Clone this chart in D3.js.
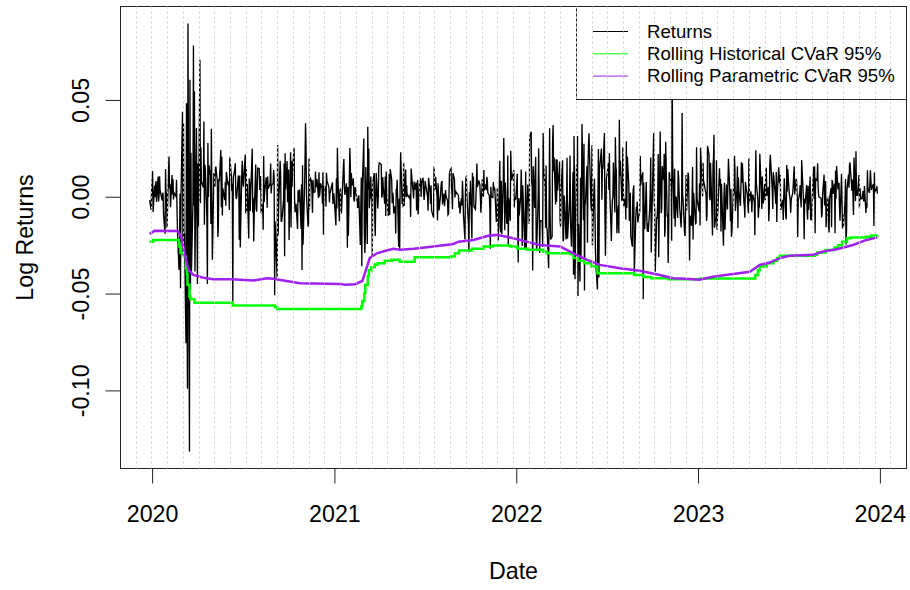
<!DOCTYPE html>
<html>
<head>
<meta charset="utf-8">
<script src="https://cdn.jsdelivr.net/npm/d3@7/dist/d3.min.js"></script>
<style>
  html, body { margin: 0; padding: 0; background: #ffffff; }
  svg { display: block; font-family: "Liberation Sans", Arial, sans-serif; }
</style>
</head>
<body>
<svg id="chart" width="910" height="590"></svg>
<script>
// ---------------------------------------------------------------------------
// Trading calendar (NASDAQ Composite sessions)
// ---------------------------------------------------------------------------
const firstSession = "2019-12-27";
const lastSession = "2023-12-27";
const marketHolidays = [
  "2020-01-01","2020-01-20","2020-02-17","2020-04-10","2020-05-25","2020-07-03","2020-09-07","2020-11-26","2020-12-25",
  "2021-01-01","2021-01-18","2021-02-15","2021-04-02","2021-05-31","2021-07-05","2021-09-06","2021-11-25","2021-12-24",
  "2022-01-17","2022-02-21","2022-04-15","2022-05-30","2022-06-20","2022-07-04","2022-09-05","2022-11-24","2022-12-26",
  "2023-01-02","2023-01-16","2023-02-20","2023-04-07","2023-05-29","2023-06-19","2023-07-04","2023-09-04","2023-11-23","2023-12-25"
];

// Daily log returns in percent, one row per month
const logReturnsPct = [
  -0.17, -0.67, 0.30, // 2019-12
  1.33, -0.79, 0.56, -0.03, 0.67, 0.81, -0.27, 1.04, -0.24, 0.08, 1.06, 0.34, -0.19, 0.14, 0.20, -0.93, -1.91, 1.43, 0.06, 0.26, -1.60, // 2020-01
  1.33, 2.08, 0.43, 0.67, -0.54, 1.12, 0.11, 0.90, -0.14, 0.20, 0.02, 0.87, -0.67, -1.81, -3.78, -2.81, 0.17, -4.72, 0.01, // 2020-02
  4.39, -3.03, 3.78, -2.83, -1.89, -7.57, 4.83, -4.81, -9.91, 8.94, -13.15, 6.04, -4.81, 2.27, -3.86, -0.27, 7.81, -0.45, 5.45, -3.86, 3.55, -0.95, // 2020-03
  -4.51, 1.71, -1.54, 7.07, -0.33, 2.55, 0.77, 0.48, 3.88, -1.45, 1.65, 1.37, -1.04, -4.51, 2.77, -0.01, 1.64, 1.10, -1.41, 3.51, -0.28, // 2020-04
  -3.25, 1.23, 1.12, 0.51, 1.40, 1.56, 0.78, -2.08, -1.57, 0.91, 0.79, 2.41, -0.54, 2.06, -0.97, 0.43, -0.17, 0.77, -0.46, 1.28, // 2020-05
  0.66, 0.59, 0.78, -0.69, 2.04, 1.12, 0.29, 0.67, -5.41, 1.00, 1.42, 1.73, 0.15, -0.12, 0.03, 1.10, 0.74, -2.22, 1.09, -2.62, 1.19, 1.86, // 2020-06
  0.95, 0.52, 2.18, -0.86, 1.43, -0.73, 0.66, -2.16, 0.94, 0.59, -0.73, 0.28, 2.48, -0.81, -0.05, -2.31, -0.94, 1.66, -0.64, -0.77, 0.43, 1.48, // 2020-07
  1.46, 0.35, 0.51, 1.07, -0.87, -0.39, -1.71, 2.10, -0.27, 0.21, 1.00, 0.73, -0.57, 1.05, 0.41, 0.60, 0.76, 1.72, 0.17, 0.60, 0.68, // 2020-08
  1.38, 0.98, -5.09, -1.28, -4.20, 2.67, -2.00, -0.60, 1.86, 1.20, -1.26, -1.27, -1.07, -0.13, 1.71, -3.07, 2.24, 0.37, 1.85, -0.29, 0.73, // 2020-09
  1.41, -2.24, 2.30, -1.59, 1.86, 0.50, 1.38, 2.53, -0.10, -0.80, -0.47, -0.36, -1.66, 0.33, -0.28, 0.19, 0.37, -1.65, 0.64, -3.78, 1.63, -2.48, // 2020-10
  0.42, 1.83, 3.79, 2.56, 0.04, -1.54, -1.38, 1.97, -0.65, 1.02, 0.79, 0.21, -0.82, 0.87, 0.22, 0.25, 1.30, 0.48, 0.91, -0.06, // 2020-11
  1.27, 0.02, 0.23, 0.70, 0.44, -0.36, 1.27, -1.96, 0.54, 0.50, -0.51, 1.24, 0.83, 0.75, 0.47, -0.29, 0.28, 0.26, 0.74, -0.37, 0.15, 0.14, // 2020-12
  -1.48, 0.95, -0.61, 2.53, 1.02, -1.26, 0.28, 0.43, -0.12, -0.87, 1.52, 1.95, 0.55, 0.09, 0.69, -0.07, -2.64, 0.50, -2.02, // 2021-01
  2.52, 1.54, -0.02, 1.22, 0.57, 0.95, -0.14, -0.25, 0.38, 0.50, -0.34, -0.58, -0.03, 0.07, -2.49, -0.50, 0.99, -3.59, 0.56, // 2021-02
  3.01, -1.70, -2.91, -2.14, 1.54, -2.44, 3.62, 0.38, 2.49, -0.59, 1.04, -0.11, 0.40, -3.07, 0.76, 1.22, -1.13, -2.03, -0.01, 1.23, -0.60, -0.11, 1.53, // 2021-03
  1.75, 1.66, -0.05, 0.07, 1.02, 0.51, -0.36, 1.04, -0.99, 1.30, 0.10, -0.98, -0.92, 1.18, -0.94, 1.43, 0.87, -0.34, 0.22, 0.01, -0.86, // 2021-04
  -0.49, -1.90, 0.37, 0.37, 0.88, -2.58, -0.09, -2.70, 0.72, 2.30, -0.38, 0.32, -0.56, 1.75, -0.48, 1.40, -0.03, 0.59, 0.01, 0.09, // 2021-05
  -0.09, 0.14, -1.04, 1.46, 0.49, 0.31, -0.09, 0.78, 0.35, 0.74, -0.71, -0.24, 0.87, -0.92, 0.79, 0.51, 0.95, -0.01, 0.69, 0.98, 0.19, -0.17, // 2021-06
  0.13, 0.81, 0.17, 0.01, -0.72, 0.98, 0.21, -0.38, 0.59, -0.70, -0.81, -1.07, 1.56, 0.91, 0.36, 1.03, 0.03, -1.22, 0.70, 0.11, -0.71, // 2021-07
  0.06, 0.55, 0.77, 0.78, -0.40, 0.16, -0.49, -0.16, 0.35, 0.04, -0.20, -0.93, -0.89, 0.11, 1.19, 1.54, 0.52, 0.15, -0.64, 1.22, 0.90, -0.04, // 2021-08
  0.33, 0.14, 0.21, 0.07, -0.57, -0.25, -0.87, -0.07, -0.45, 0.82, 0.13, -0.92, -2.21, 0.22, 1.01, 1.04, 0.03, -1.41, -2.87, 0.24, -0.44, // 2021-09
  0.82, -2.16, 1.24, 0.47, 1.04, -0.51, -0.64, -0.14, 0.72, 1.71, 0.50, 0.84, 0.71, 0.62, -0.05, -0.82, 0.90, 0.06, 0.00, 1.38, 0.33, // 2021-10
  0.63, 0.34, 1.03, 0.81, 0.20, 0.07, -0.60, -2.68, 0.51, 0.00, -0.04, 0.76, 0.33, 0.45, 0.39, -1.27, -1.27, 0.44, -2.26, 1.86, -1.57, // 2021-11
  -1.85, 0.83, -1.94, 0.93, 3.03, 0.64, -1.73, 0.73, -1.40, -1.15, 2.13, -2.50, -0.07, -1.24, 2.38, 1.17, 0.84, 1.38, -0.56, 0.00, -0.10, -0.16, // 2021-12
  1.19, -1.34, -3.40, -0.07, -0.97, 0.05, 1.40, 0.23, -2.54, 0.59, -2.63, -1.16, 1.30, -2.76, 0.63, -0.28, 0.02, -1.41, 3.08, 3.36, // 2022-01
  0.75, 0.50, -3.81, 1.57, -0.58, 1.27, 2.06, -2.13, -2.81, 0.00, 2.50, -0.11, -2.91, -1.24, -1.24, -2.60, 3.29, 1.62, 0.41, // 2022-02
  -1.60, 1.61, -1.57, -1.67, -3.69, -0.28, 3.53, -0.95, -2.21, -2.06, 2.88, 3.70, 1.32, 2.03, -0.40, 1.94, -0.27, 1.92, 0.31, 1.30, 1.82, -1.22, -1.55, // 2022-03
  0.29, 1.88, -2.29, -2.24, 0.06, -0.34, -2.21, -0.30, 2.01, -2.17, -0.14, 2.13, -1.24, -2.09, -2.58, 1.28, -4.03, 3.14, -0.01, -4.26, // 2022-04
  1.62, 0.22, 3.14, -5.12, -1.41, -4.38, 0.98, -3.23, 0.06, 3.75, -1.21, 2.73, -4.84, -0.26, -0.30, 1.58, -2.38, 1.50, 2.65, 3.28, -0.41, // 2022-05
  -0.72, 2.66, -2.50, 0.40, 0.94, -0.73, -2.78, -3.59, -4.79, -0.18, 2.47, -4.17, 1.42, 2.49, -0.15, 1.62, 1.44, 3.29, -0.72, -3.05, -1.34, // 2022-06
  0.90, 1.74, 0.35, 2.26, 0.12, -2.29, -0.95, -0.15, -0.03, 1.77, -0.81, 3.07, 1.56, 1.34, -1.88, -0.43, -1.89, 3.98, 1.07, 1.86, // 2022-07
  -0.18, -0.16, 2.56, 0.41, -0.50, -0.10, -1.19, 2.86, -0.58, 2.07, 0.62, -1.25, -0.35, 0.21, -2.03, -2.58, 0.00, 0.41, 0.59, -4.02, -1.03, -0.56, -0.56, // 2022-08
  -0.26, -1.32, -0.74, 2.12, 0.60, 0.88, 1.26, -5.30, 0.74, -1.44, -1.67, 0.76, -0.95, -1.79, -1.37, -1.82, -0.60, 0.25, 2.03, -2.88, -1.53, // 2022-09
  2.24, 3.29, -0.25, -0.68, -3.87, -1.05, -1.11, -0.09, 2.21, -3.13, 3.37, 0.90, -0.85, -0.61, 1.58, 0.85, 2.22, -2.06, -1.64, 2.84, -1.04, // 2022-10
  -0.89, -3.42, -1.75, 1.27, 0.85, 0.49, -2.27, 7.09, 1.87, -1.13, 1.44, -1.55, -0.35, 0.01, -1.10, 1.35, 0.99, -0.52, -1.59, -0.66, 4.32, // 2022-11
  0.13, -0.18, -1.95, -2.03, -0.51, 1.12, -0.70, 1.25, 1.00, -0.76, -3.29, -0.97, -1.50, 0.01, 1.53, -2.21, 0.21, -1.39, -1.36, 2.56, -0.11, // 2022-12
  -0.76, 0.69, -1.48, 2.53, 0.63, 0.01, 1.75, 0.64, 0.71, 0.14, -1.25, -0.96, 2.63, 2.18, 0.01, -0.18, 1.75, 0.95, -2.00, 1.66, // 2023-01
  1.99, 3.20, -1.60, -1.01, 1.89, -1.70, -1.03, -0.62, 1.47, 0.56, 0.91, -1.80, 0.67, -2.53, -0.01, 0.72, -1.70, 0.63, -0.10, // 2023-02
  -0.66, 0.73, 1.96, 0.10, -1.26, 0.40, -2.07, -1.77, 0.45, 0.14, 2.12, 1.46, -0.74, 0.39, 1.57, -1.61, 1.00, 0.30, -0.47, 0.45, 1.78, 0.72, 1.73, // 2023-03
  -0.27, -0.52, -1.08, 0.76, 0.03, -0.43, -0.85, 1.98, -0.35, 0.28, 0.03, -0.80, 0.03, 0.11, -0.29, -1.99, 0.47, 2.40, 0.69, // 2023-04
  -0.11, -1.09, -0.46, -0.49, 2.22, 0.18, -0.63, 1.04, 0.18, -0.35, 0.66, -0.18, 1.27, 1.50, 0.04, 0.50, -1.26, -0.61, 1.70, 2.17, 0.32, -0.63, // 2023-05
  1.27, 1.06, 0.09, -0.36, 1.28, -1.30, 0.16, 1.52, 0.82, 0.69, 1.14, -0.68, -0.16, -1.20, -0.03, 0.95, -1.01, -1.17, 1.64, 0.27, 1.44, // 2023-06
  0.21, -0.18, -0.82, -0.13, 0.18, 0.55, 1.15, 1.57, 0.12, 0.93, 0.76, 0.03, -2.08, -0.22, 0.19, 0.61, -0.12, -0.55, 1.89, 0.21, // 2023-07
  -0.43, -2.20, -0.10, -0.36, 0.61, -0.79, -1.18, 0.55, -0.68, 1.04, -1.15, -1.18, -1.19, -0.20, 1.55, -0.12, 1.58, -1.89, 0.93, 0.84, 1.73, 0.54, 0.11, // 2023-08
  -0.02, -0.08, -1.07, -0.89, 0.09, 1.14, -0.45, 0.29, 0.81, -1.57, 0.01, -0.23, -1.54, -1.84, -0.09, 0.45, -1.58, 0.83, 0.82, 0.14, // 2023-09
  0.67, -1.89, 1.34, -0.12, 1.58, 0.38, 0.58, 0.71, -0.63, -1.24, 1.19, -0.24, -1.64, -0.96, -1.55, -0.27, 0.92, -2.46, -1.78, 0.37, 1.15, 0.47, // 2023-10
  1.63, 1.77, 1.37, 0.30, 0.89, 0.08, -0.94, 2.03, -0.22, 2.35, 0.07, 0.07, 0.08, 1.12, -0.59, 0.46, -0.11, -0.07, 0.29, -0.16, -0.23, // 2023-11
  0.55, -0.84, -0.31, -0.58, 1.37, 0.45, 0.20, 0.70, 1.37, 0.82, 0.35, 0.61, 0.66, -1.51, 1.25, 0.19, 0.54, 0.16 // 2023-12
];

// Rolling historical CVaR (95%), level from each date onward
const historicalCvar = [
  ["2019-12-27", -0.0232], ["2020-01-03", -0.0223], ["2020-02-24", -0.0240], ["2020-02-25", -0.0258],
  ["2020-02-27", -0.0290], ["2020-03-05", -0.0310], ["2020-03-09", -0.0370], ["2020-03-11", -0.0400],
  ["2020-03-12", -0.0455], ["2020-03-16", -0.0515], ["2020-03-18", -0.0530], ["2020-03-26", -0.0547],
  ["2020-06-11", -0.0561], ["2020-09-03", -0.0570], ["2020-09-08", -0.0580], ["2021-02-24", -0.0565],
  ["2021-02-26", -0.0540], ["2021-03-02", -0.0500], ["2021-03-04", -0.0455], ["2021-03-09", -0.0410],
  ["2021-03-11", -0.0380], ["2021-03-16", -0.0364], ["2021-03-23", -0.0350], ["2021-03-29", -0.0343],
  ["2021-04-12", -0.0331], ["2021-04-26", -0.0326], ["2021-05-12", -0.0336], ["2021-06-11", -0.0312],
  ["2021-08-23", -0.0309], ["2021-08-31", -0.0292], ["2021-09-08", -0.0278], ["2021-10-04", -0.0268],
  ["2021-10-27", -0.0257], ["2021-11-15", -0.0252], ["2021-12-20", -0.0257], ["2022-01-03", -0.0269],
  ["2022-01-24", -0.0274], ["2022-02-24", -0.0283], ["2022-03-03", -0.0292], ["2022-04-19", -0.0296],
  ["2022-04-26", -0.0317], ["2022-05-05", -0.0330], ["2022-05-18", -0.0343], ["2022-06-01", -0.0360],
  ["2022-06-13", -0.0395], ["2022-08-26", -0.0404], ["2022-09-13", -0.0415], ["2022-09-29", -0.0421],
  ["2022-11-03", -0.0426], ["2023-01-05", -0.0422], ["2023-04-26", -0.0404], ["2023-05-01", -0.0380],
  ["2023-05-05", -0.0360], ["2023-05-19", -0.0343], ["2023-06-02", -0.0330], ["2023-06-09", -0.0317],
  ["2023-06-14", -0.0305], ["2023-08-24", -0.0300], ["2023-08-28", -0.0288], ["2023-09-14", -0.0275],
  ["2023-10-02", -0.0262], ["2023-10-09", -0.0250], ["2023-10-17", -0.0232], ["2023-10-27", -0.0214],
  ["2023-11-03", -0.0210], ["2023-12-04", -0.0206], ["2023-12-15", -0.0200], ["2023-12-27", -0.0197]
];

// Rolling parametric CVaR (95%)
const parametricCvar = [
  ["2019-12-27", -0.0192], ["2020-01-06", -0.0176], ["2020-02-21", -0.0177], ["2020-02-26", -0.0195],
  ["2020-03-01", -0.0223], ["2020-03-07", -0.0300], ["2020-03-14", -0.0378], ["2020-03-24", -0.0404],
  ["2020-04-13", -0.0418], ["2020-05-03", -0.0426], ["2020-06-09", -0.0426], ["2020-07-22", -0.0433],
  ["2020-08-18", -0.0421], ["2020-08-31", -0.0424], ["2020-09-21", -0.0433], ["2020-10-24", -0.0447],
  ["2021-01-12", -0.0450], ["2021-01-22", -0.0455], ["2021-02-11", -0.0452], ["2021-02-26", -0.0435],
  ["2021-03-05", -0.0380], ["2021-03-13", -0.0317], ["2021-03-27", -0.0292], ["2021-04-16", -0.0278],
  ["2021-04-29", -0.0269], ["2021-05-13", -0.0274], ["2021-06-09", -0.0269], ["2021-07-19", -0.0257],
  ["2021-08-28", -0.0244], ["2021-09-07", -0.0232], ["2021-10-07", -0.0223], ["2021-11-06", -0.0202],
  ["2021-11-23", -0.0197], ["2021-12-26", -0.0214], ["2022-01-22", -0.0232], ["2022-02-17", -0.0249],
  ["2022-03-30", -0.0257], ["2022-04-26", -0.0292], ["2022-05-23", -0.0326], ["2022-06-18", -0.0352],
  ["2022-07-28", -0.0369], ["2022-09-06", -0.0382], ["2022-10-16", -0.0404], ["2022-11-12", -0.0421],
  ["2022-12-09", -0.0424], ["2023-01-03", -0.0429], ["2023-01-31", -0.0413], ["2023-03-12", -0.0399],
  ["2023-04-15", -0.0387], ["2023-05-05", -0.0352], ["2023-05-25", -0.0340], ["2023-06-14", -0.0317],
  ["2023-07-04", -0.0305], ["2023-08-20", -0.0300], ["2023-09-09", -0.0283], ["2023-10-06", -0.0271],
  ["2023-11-08", -0.0249], ["2023-12-05", -0.0223], ["2023-12-27", -0.0210]
];

const yTickValues = [0.05, 0.00, -0.05, -0.10];
const yTickLabels = ["0.05", "0.00", "-0.05", "-0.10"];
const xTickYears = ["2020", "2021", "2022", "2023", "2024"];
const legendLabels = ["Returns", "Rolling Historical CVaR 95%", "Rolling Parametric CVaR 95%"];
const seriesColors = ["#000000", "#00FF00", "#A020F0"];
const xTitle = "Date";
const yTitle = "Log Returns";

// ---------------------------------------------------------------------------
// Data preparation
// ---------------------------------------------------------------------------
const parseDay = d3.utcParse("%Y-%m-%d");
const fmtDay = d3.utcFormat("%Y-%m-%d");
const holidaySet = new Set(marketHolidays);
const sessions = d3.utcDay
  .range(parseDay(firstSession), d3.utcDay.offset(parseDay(lastSession), 1))
  .filter(d => d.getUTCDay() !== 0 && d.getUTCDay() !== 6 && !holidaySet.has(fmtDay(d)));
if (sessions.length !== logReturnsPct.length) {
  console.warn("session count", sessions.length, "returns", logReturnsPct.length);
}
const n = Math.min(sessions.length, logReturnsPct.length);
const returns = d3.range(n).map(i => ({ date: sessions[i], value: logReturnsPct[i] / 100 }));
const hist = historicalCvar.map(([d, v]) => ({ date: parseDay(d), value: v }));
const param = parametricCvar.map(([d, v]) => ({ date: parseDay(d), value: v }));

// ---------------------------------------------------------------------------
// Layout and scales (axes extended 4% beyond the data, as in base R)
// ---------------------------------------------------------------------------
const plot = { left: 120.5, right: 906.5, top: 6.5, bottom: 468.5 };
const [t0, t1] = d3.extent(returns, d => d.date);
const tPad = (t1 - t0) * 0.04;
const x = d3.scaleUtc()
  .domain([new Date(+t0 - tPad), new Date(+t1 + tPad)])
  .range([plot.left, plot.right]);
const [v0, v1] = d3.extent(returns, d => d.value);
const vPad = (v1 - v0) * 0.04;
const y = d3.scaleLinear()
  .domain([v0 - vPad, v1 + vPad])
  .range([plot.bottom, plot.top]);

const svg = d3.select("#chart");
svg.append("rect").attr("width", 910).attr("height", 590).attr("fill", "#ffffff");

svg.append("clipPath").attr("id", "plot-clip")
  .append("rect")
  .attr("x", plot.left).attr("y", plot.top)
  .attr("width", plot.right - plot.left).attr("height", plot.bottom - plot.top);

const marks = svg.append("g").attr("clip-path", "url(#plot-clip)");

// Daily returns
marks.append("path")
  .datum(returns)
  .attr("fill", "none")
  .attr("stroke", seriesColors[0])
  .attr("stroke-width", 1.35)
  .attr("stroke-linejoin", "miter")
  .attr("d", d3.line().x(d => x(d.date)).y(d => y(d.value)));

// Historical CVaR (piecewise constant)
marks.append("path")
  .datum(hist)
  .attr("fill", "none")
  .attr("stroke", seriesColors[1])
  .attr("stroke-width", 2.5)
  .attr("d", d3.line().curve(d3.curveStepAfter).x(d => x(d.date)).y(d => y(d.value)));

// Parametric CVaR
marks.append("path")
  .datum(param)
  .attr("fill", "none")
  .attr("stroke", seriesColors[2])
  .attr("stroke-width", 2.5)
  .attr("d", d3.line().x(d => x(d.date)).y(d => y(d.value)));

// Plot frame
svg.append("rect")
  .attr("x", plot.left).attr("y", plot.top)
  .attr("width", plot.right - plot.left).attr("height", plot.bottom - plot.top)
  .attr("fill", "none").attr("stroke", "#222").attr("stroke-width", 1);

// ---------------------------------------------------------------------------
// Axes
// ---------------------------------------------------------------------------
const yearDates = xTickYears.map(s => parseDay(s + "-01-01"));
const xAxis = svg.append("g")
  .attr("transform", `translate(0,${plot.bottom})`)
  .call(d3.axisBottom(x).tickValues(yearDates).tickFormat(d3.utcFormat("%Y")).tickSizeOuter(0).tickSize(15));
xAxis.select(".domain").remove();
xAxis.selectAll(".tick line").attr("stroke", "#222");
xAxis.selectAll(".tick text")
  .attr("y", 53).attr("dy", null)
  .attr("fill", "#000")
  .style("font-size", "23.2px")
  .style("font-family", '"Liberation Sans", Arial, sans-serif');
xAxis.append("line")
  .attr("x1", x(yearDates[0])).attr("x2", x(yearDates[yearDates.length - 1]))
  .attr("y1", 0).attr("y2", 0).attr("stroke", "#222");

const yAxis = svg.append("g")
  .attr("transform", `translate(${plot.left},0)`)
  .call(d3.axisLeft(y).tickValues(yTickValues).tickFormat((d, i) => yTickLabels[i]).tickSizeOuter(0).tickSize(15));
yAxis.select(".domain").remove();
yAxis.selectAll(".tick line").attr("stroke", "#222");
yAxis.selectAll(".tick text")
  .attr("x", null).attr("dy", null)
  .attr("text-anchor", "middle")
  .attr("transform", "translate(-32,0) rotate(-90)")
  .attr("fill", "#000")
  .style("font-size", "23.2px")
  .style("font-family", '"Liberation Sans", Arial, sans-serif');
yAxis.append("line")
  .attr("x1", 0).attr("x2", 0)
  .attr("y1", y(d3.min(yTickValues))).attr("y2", y(d3.max(yTickValues)))
  .attr("stroke", "#222");

svg.append("text")
  .attr("x", (plot.left + plot.right) / 2).attr("y", 578.5)
  .attr("text-anchor", "middle").attr("fill", "#000")
  .style("font-size", "23.2px")
  .text(xTitle);

svg.append("text")
  .attr("transform", `translate(32.5,${(plot.top + plot.bottom) / 2}) rotate(-90)`)
  .attr("text-anchor", "middle").attr("fill", "#000")
  .style("font-size", "23.2px")
  .text(yTitle);

// ---------------------------------------------------------------------------
// Legend (top right, opaque)
// ---------------------------------------------------------------------------
const legend = { left: 576.5, top: plot.top, bottom: 99.5, rowY0: 31.5, rowGap: 22.3 };
svg.append("rect")
  .attr("x", legend.left).attr("y", legend.top)
  .attr("width", plot.right - legend.left).attr("height", legend.bottom - legend.top)
  .attr("fill", "#ffffff").attr("stroke", "#222").attr("stroke-width", 1);
const rows = svg.append("g").selectAll("g")
  .data(legendLabels)
  .join("g")
  .attr("transform", (d, i) => `translate(0,${legend.rowY0 + i * legend.rowGap})`);
rows.append("line")
  .attr("x1", 593).attr("x2", 628).attr("y1", 0).attr("y2", 0)
  .attr("stroke", (d, i) => seriesColors[i]).attr("stroke-width", 1);
rows.append("text")
  .attr("x", 647).attr("y", 6)
  .attr("fill", "#000")
  .style("font-size", "18.6px")
  .text(d => d);

// ---------------------------------------------------------------------------
// Vertical grid: 50 equal cells across the plot, drawn on top
// ---------------------------------------------------------------------------
const gridCells = 50;
const gridX = d3.range(1, gridCells)
  .map(k => Math.round(plot.left + k * (plot.right - plot.left) / gridCells - 0.5) + 0.5);
svg.append("g").selectAll("line")
  .data(gridX)
  .join("line")
  .attr("x1", d => d).attr("x2", d => d)
  .attr("y1", plot.top).attr("y2", plot.bottom)
  .attr("stroke", "#D3D3D3").attr("stroke-width", 1)
  .attr("stroke-dasharray", "2,3");
</script>
</body>
</html>
